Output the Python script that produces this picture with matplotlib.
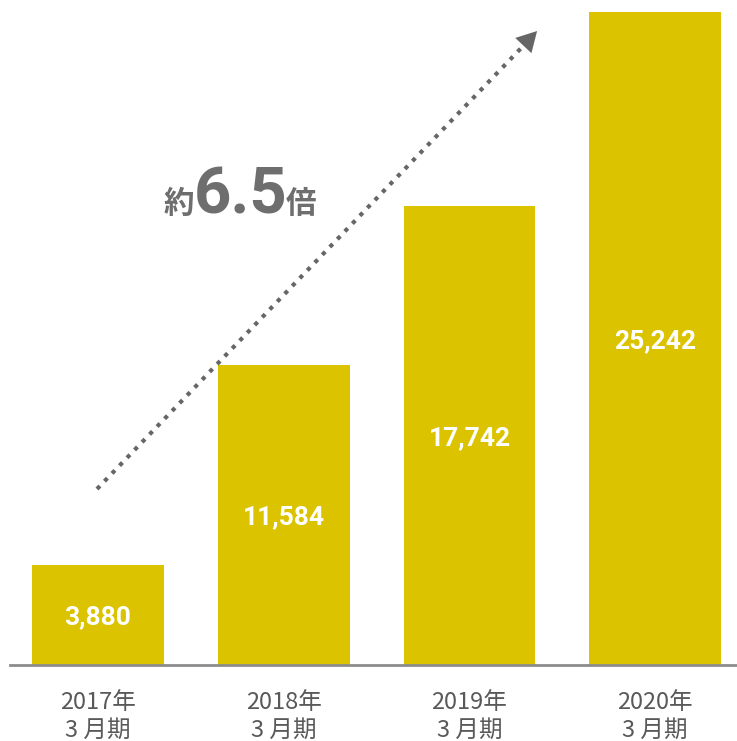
import matplotlib
matplotlib.use("Agg")
import matplotlib.pyplot as plt
from matplotlib.patches import FancyArrowPatch

categories = ["2017年\n3 月期", "2018年\n3 月期", "2019年\n3 月期", "2020年\n3 月期"]
values = [3880, 11584, 17742, 25242]
value_labels = ["3,880", "11,584", "17,742", "25,242"]

W, H = 737, 741
fig = plt.figure(figsize=(W / 100, H / 100), dpi=100)
base_px = 665
ax = fig.add_axes([10 / W, (H - base_px) / H, 1 - 10 / W, base_px / H])

bar_color = "#DBC300"
x = list(range(len(values)))
ax.bar(x, values, width=0.71, color=bar_color, zorder=2)
ax.set_xlim(-0.474, 3.44)
ax.set_ylim(0, 25705)

for s in ["top", "right", "left"]:
    ax.spines[s].set_visible(False)
ax.spines["bottom"].set_color("#8C8C8C")
ax.spines["bottom"].set_linewidth(2)
ax.set_yticks([])
ax.set_xticks(x)
ax.set_xticklabels(categories, fontsize=17, color="#595959",
                   family=["Noto Sans CJK JP", "DejaVu Sans"], linespacing=1.22)
ax.tick_params(axis="x", length=0, pad=19)

for xi, v, lab in zip(x, values, value_labels):
    ax.text(xi, v / 2, lab, ha="center", va="center_baseline", color="white",
            fontsize=19, fontweight="bold", family="Roboto", zorder=3)

# dotted arrow (figure pixel coords converted to fraction)
def fpx(px, py):
    return (px / W, 1 - py / H)

x0, y0 = fpx(97, 489)
x1, y1 = fpx(527, 42)
line = plt.Line2D([x0, x1], [y0, y1], transform=fig.transFigure,
                  color="#666666", linewidth=3, linestyle=(0, (1, 1.6)),
                  dash_capstyle="butt")
fig.add_artist(line)
hx0, hy0 = fpx(522, 47)
hx1, hy1 = fpx(539, 29)
head = FancyArrowPatch((hx0, hy0), (hx1, hy1), transform=fig.transFigure,
                       arrowstyle="-|>,head_length=9,head_width=5",
                       color="#666666", linewidth=0, mutation_scale=1.6)
fig.add_artist(head)

gray = "#6E6E6E"
jp = ["Noto Sans CJK JP", "DejaVu Sans"]
fig.text(*fpx(164, 213), "約", fontsize=22, fontweight="bold", color=gray,
         family=jp, ha="left", va="baseline")
fig.text(*fpx(194, 213), "6.5", fontsize=47, fontweight="bold", color=gray,
         family="Roboto", ha="left", va="baseline")
fig.text(*fpx(286, 213), "倍", fontsize=22, fontweight="bold", color=gray,
         family=jp, ha="left", va="baseline")

fig.savefig("out.png", dpi=100)
